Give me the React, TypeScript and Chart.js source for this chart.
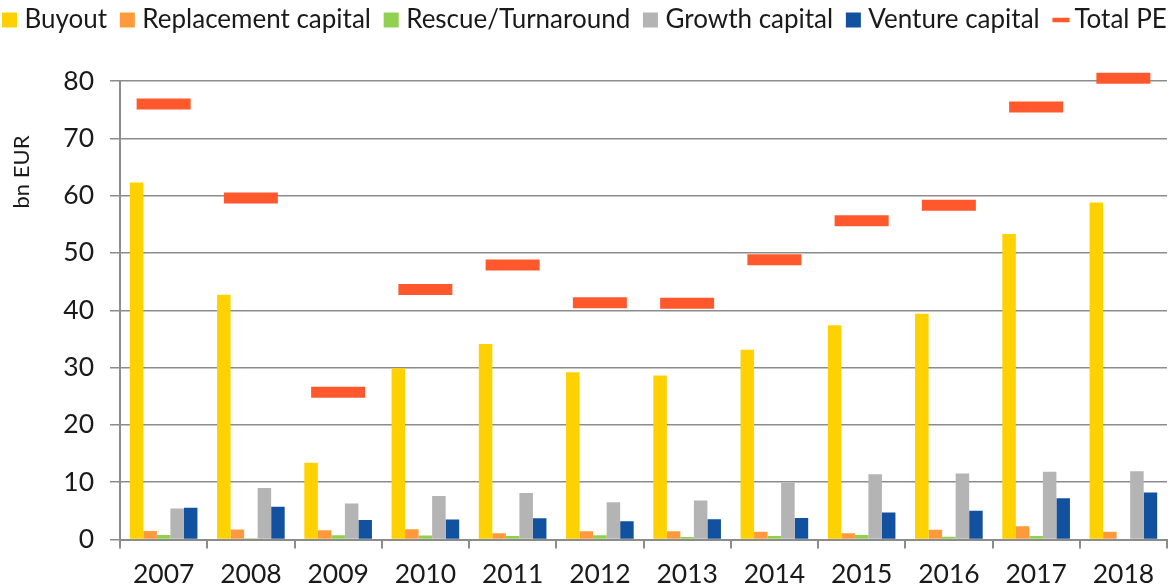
import React, { useEffect, useRef } from "react";
import { Chart, registerables } from "chart.js";

Chart.register(...registerables);

const years = ["2007", "2008", "2009", "2010", "2011", "2012", "2013", "2014", "2015", "2016", "2017", "2018"];
const buyout = [62.3, 42.7, 13.4, 29.9, 34.1, 29.2, 28.6, 33.1, 37.4, 39.4, 53.3, 58.8];
const replacement = [1.5, 1.75, 1.6, 1.8, 1.1, 1.45, 1.45, 1.35, 1.1, 1.7, 2.3, 1.35];
const rescue = [0.8, 0.2, 0.75, 0.7, 0.6, 0.75, 0.45, 0.6, 0.8, 0.5, 0.6, 0.15];
const growth = [5.4, 9.0, 6.3, 7.6, 8.1, 6.5, 6.8, 9.9, 11.4, 11.5, 11.8, 11.9];
const venture = [5.55, 5.7, 3.4, 3.5, 3.7, 3.2, 3.55, 3.75, 4.7, 5.0, 7.2, 8.2];
const totalPE = [76.0, 59.6, 25.7, 43.6, 47.9, 41.3, 41.2, 48.8, 55.6, 58.3, 75.45, 80.5];
const yTitle = "bn EUR";

const FONT = "Lato";
const TEXT = "#1a1a1a";
const GRID = "#8c8c8c";

export default function App() {
  const ref = useRef<HTMLCanvasElement | null>(null);
  useEffect(() => {
    document.body.style.margin = "0";
    const canvas = ref.current;
    if (!canvas) return;
    const customLegend = {
      id: "customLegend",
      afterDraw(chart: any) {
        const ctx = chart.ctx;
        ctx.save();
        ctx.font = `26px ${FONT}`;
        ctx.textBaseline = "middle";
        ctx.textAlign = "left";
        const cy = 20;
        let x = 2;
        chart.data.datasets.forEach((ds: any) => {
          const isLine = ds.type === "line";
          if (isLine) {
            ctx.strokeStyle = ds.borderColor;
            ctx.lineWidth = 4.5;
            ctx.beginPath();
            ctx.moveTo(x, cy);
            ctx.lineTo(x + 17, cy);
            ctx.stroke();
            x += 17 + 5;
          } else {
            ctx.fillStyle = ds.backgroundColor;
            ctx.fillRect(x, cy - 7.5, 15, 15);
            x += 15 + 7.5;
          }
          ctx.fillStyle = TEXT;
          ctx.fillText(ds.label, x, cy);
          x += ctx.measureText(ds.label).width + 12.7;
        });
        ctx.restore();
      },
    };
    const yTitlePlugin = {
      id: "yTitlePlugin",
      afterDraw(chart: any) {
        const ctx = chart.ctx;
        ctx.save();
        ctx.translate(22, 172);
        ctx.rotate(-Math.PI / 2);
        ctx.font = `22px ${FONT}`;
        ctx.fillStyle = TEXT;
        ctx.textAlign = "center";
        ctx.textBaseline = "middle";
        ctx.fillText(yTitle, 0, 0);
        ctx.restore();
      },
    };
    const chart = new Chart(canvas, {
      type: "bar",
      data: {
        labels: years,
        datasets: [
          { label: "Buyout", data: buyout, backgroundColor: "#FFD100", order: 2 },
          { label: "Replacement capital", data: replacement, backgroundColor: "#FF9A3C", order: 2 },
          { label: "Rescue/Turnaround", data: rescue, backgroundColor: "#92D050", order: 2 },
          { label: "Growth capital", data: growth, backgroundColor: "#B4B4B4", order: 2 },
          { label: "Venture capital", data: venture, backgroundColor: "#11519F", order: 2 },
          {
            type: "line",
            label: "Total PE",
            data: totalPE,
            showLine: false,
            borderColor: "#FF582C",
            backgroundColor: "#FF582C",
            pointStyle: "line",
            pointRadius: 27,
            pointHoverRadius: 27,
            pointBorderWidth: 11,
            pointBorderColor: "#FF582C",
            clip: false,
            order: 1,
          } as any,
        ],
      },
      options: {
        animation: false,
        responsive: false,
        maintainAspectRatio: false,
        layout: { autoPadding: false, padding: { left: 0, right: 5, top: 81, bottom: 0 } },
        datasets: { bar: { categoryPercentage: 0.775, barPercentage: 1 } } as any,
        plugins: {
          tooltip: { enabled: false },
          legend: { display: false },
        },
        scales: {
          x: {
            grid: { offset: true, drawOnChartArea: false, tickLength: 9, color: GRID, lineWidth: 2 },
            border: { color: GRID, width: 2 },
            ticks: { color: TEXT, font: { family: FONT, size: 26.5 }, padding: 10, maxRotation: 0 },
            afterFit(s: any) {
              s.height = 48.5;
              s.paddingLeft = 0;
              s.paddingRight = 0;
            },
          },
          y: {
            min: 0,
            max: 80,
            ticks: { stepSize: 10, color: TEXT, font: { family: FONT, size: 26.5 }, padding: 16 },
            grid: { color: GRID, lineWidth: 1.5, tickLength: 10 },
            border: { color: GRID, width: 2 },
            title: { display: false },
            afterFit(s: any) {
              s.width = 120;
            },
          },
        },
      },
      plugins: [customLegend, yTitlePlugin],
    });
    return () => chart.destroy();
  }, []);
  return (
    <div style={{ width: 1172, height: 588 }}>
      <canvas ref={ref} width={1172} height={588} style={{ display: "block" }} />
    </div>
  );
}
